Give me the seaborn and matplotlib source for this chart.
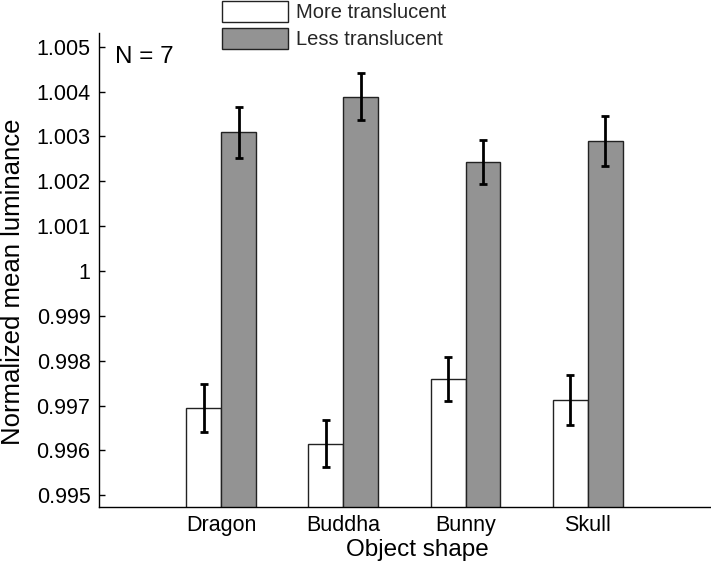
import pandas as pd
import matplotlib.pyplot as plt
import seaborn as sns

# === Data ===
shapes = ['Dragon', 'Buddha', 'Bunny', 'Skull']
conditions = ['More translucent', 'Less translucent']
more_mean = [0.99694, 0.99615, 0.99760, 0.99713]
more_err = [0.00054, 0.00052, 0.00049, 0.00056]
less_mean = [1.00309, 1.00389, 1.00243, 1.00290]
less_err = [0.00056, 0.00052, 0.00049, 0.00056]
ytick_values = [0.995, 0.996, 0.997, 0.998, 0.999, 1.0, 1.001, 1.002, 1.003, 1.004, 1.005]
ytick_labels = ['0.995', '0.996', '0.997', '0.998', '0.999', '1',
                '1.001', '1.002', '1.003', '1.004', '1.005']

# === Style ===
sns.set_theme(style='white')
plt.rcParams['font.family'] = ['Liberation Sans', 'DejaVu Sans']

df = pd.DataFrame({
    'shape': shapes * 2,
    'condition': [conditions[0]] * 4 + [conditions[1]] * 4,
    'value': more_mean + less_mean,
})

fig = plt.figure(figsize=(7.11, 5.67), dpi=100)
ax = fig.add_axes([0.139, 0.106, 0.8596, 0.836])

sns.barplot(data=df, x='shape', y='value', hue='condition', hue_order=conditions,
            order=shapes, palette=['white', '#939393'], saturation=1, width=0.572,
            edgecolor='#222222', linewidth=1.0, errorbar=None, ax=ax)

# error bars from the drawn bars
for container, errs in zip(ax.containers, [more_err, less_err]):
    xs = [b.get_x() + b.get_width() / 2 for b in container]
    ys = [b.get_y() + b.get_height() for b in container]
    ax.errorbar(xs, ys, yerr=errs, fmt='none', ecolor='black',
                elinewidth=2.0, capsize=2.8, capthick=2.0, zorder=5)

ax.set_xlim(-1, 4)
ax.set_ylim(0.99474, 1.00531)
ax.set_yticks(ytick_values)
ax.set_yticklabels(ytick_labels)
ax.tick_params(axis='y', direction='in', length=4, width=1, color='black',
               labelsize=15.5, pad=6, left=True)
ax.tick_params(axis='x', length=0, labelsize=15.5, pad=6)
for lbl in ax.get_xticklabels() + ax.get_yticklabels():
    lbl.set_color('black')

sns.despine(ax=ax)
for side in ['left', 'bottom']:
    ax.spines[side].set_color('black')
    ax.spines[side].set_linewidth(1.0)

ax.set_xlabel('Object shape', fontsize=17.5, color='black')
ax.set_ylabel('Normalized mean luminance', fontsize=18.5, color='black')
ax.xaxis.set_label_coords(0.521, -0.068)
ax.yaxis.set_label_coords(-0.121, 0.475)

ax.text(0.027, 0.972, 'N = 7', transform=ax.transAxes, fontsize=17.5,
        va='top', ha='left', color='black')

sns.move_legend(ax, 'upper left', bbox_to_anchor=(0.312, 0.999),
                bbox_transform=fig.transFigure, title=None, frameon=False,
                fontsize=14.5, handlelength=3.28, handleheight=1.25,
                labelspacing=0.3, handletextpad=0.42, borderpad=0, borderaxespad=0)

fig.savefig('out.png', dpi=100)
